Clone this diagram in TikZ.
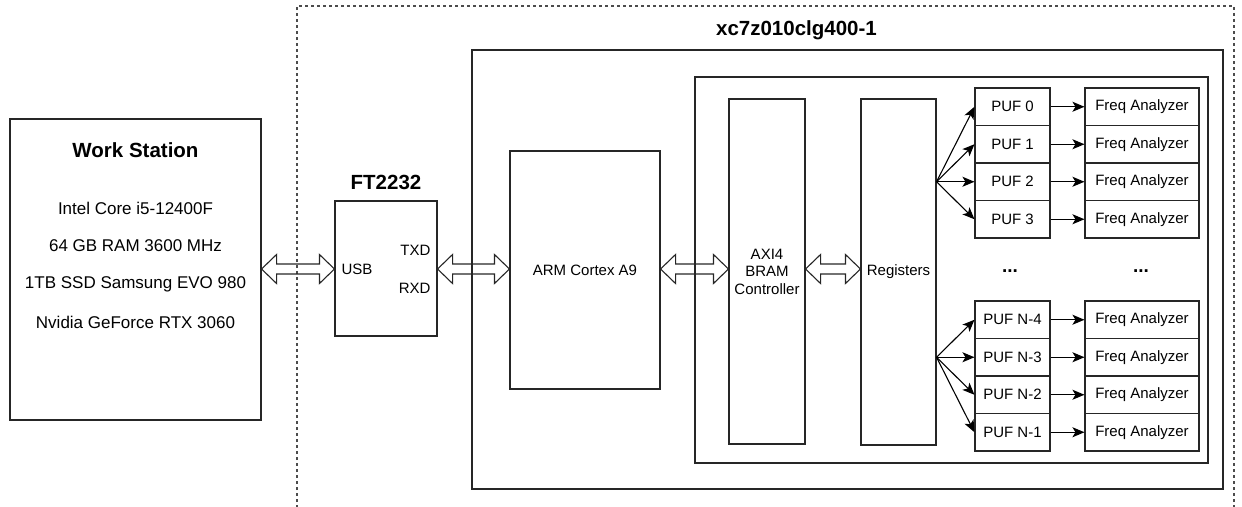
\documentclass[tikz,border=0pt]{standalone}
\usepackage{fontspec}
\setmainfont{Liberation Sans}
\usetikzlibrary{arrows.meta,calc}
\newcommand{\hollowarrow}[2]{%
  \draw[harrow] (#1) -- ($(#1)+(15,-14.5)$) -- ($(#1)+(15,-5)$) -- ($(#2)+(-15,-5)$) -- ($(#2)+(-15,-14.5)$) -- (#2)
    -- ($(#2)+(-15,14.5)$) -- ($(#2)+(-15,5)$) -- ($(#1)+(15,5)$) -- ($(#1)+(15,14.5)$) -- cycle;}
\begin{document}
\begin{tikzpicture}[x=1pt,y=-1pt,
  box/.style={draw=black!85, line width=1.1pt, rectangle, inner sep=0pt, font=\fontsize{15}{18}\selectfont},
  title/.style={font=\fontsize{20.5}{24}\selectfont\bfseries, inner sep=0pt},
  wstext/.style={font=\fontsize{17}{20}\selectfont, inner sep=0pt},
  harrow/.style={draw=black!85, line width=1.1pt, line join=miter},
  conn/.style={draw=black, line width=1.1pt, -{Stealth[length=12pt,width=10pt,inset=3pt]}},
  dots/.style={font=\fontsize{19}{20}\selectfont\bfseries, inner sep=0pt},
  dashbox/.style={draw=black!70, line width=1.1pt, dash pattern=on 3pt off 3pt}]
\useasboundingbox (0,0) rectangle (1242,506);
% dashed enclosure
\draw[dashbox] (297,520) -- (297,6) -- (1234,6) -- (1234,520);
% work station
\node[box, minimum width=251, minimum height=301] (ws) at (135.5,269.5) {};
\node[title] (wst) at (135.5,150) {Work Station};
\node[wstext] (w1) at (135.5,208) {Intel Core i5-12400F};
\node[wstext] (w2) at (135.5,246) {64 GB RAM 3600 MHz};
\node[wstext] (w3) at (135.5,284) {1TB SSD Samsung EVO 980};
\node[wstext] (w4) at (135.5,322) {Nvidia GeForce RTX 3060};
% FT2232
\node[box, minimum width=102, minimum height=135] (ft) at (386,268.5) {};
\node[title] (ftt) at (386,182) {FT2232};
\node[box, draw=none, anchor=west] (usb) at (341,269) {USB};
\node[box, draw=none, anchor=east] (txd) at (431,250) {TXD};
\node[box, draw=none, anchor=east] (rxd) at (431,288) {RXD};
% chip
\node[title] (xct) at (796.5,30) {xc7z010clg400-1};
\node[box, minimum width=751, minimum height=439] (xc) at (847.5,269.5) {};
\node[box, minimum width=513, minimum height=386] (pl) at (951.5,270) {};
\node[box, minimum width=150, minimum height=238] (arm) at (585,270) {ARM Cortex A9};
\node[box, minimum width=76, minimum height=345, align=center, font=\fontsize{15}{17.5}\selectfont] (axi) at (767,271.5) {AXI4\\BRAM\\Controller};
\node[box, minimum width=75, minimum height=346] (reg) at (898.5,272) {Registers};
% PUFs and analyzers
\foreach \i/\lab/\y in {0/PUF 0/106.75, 1/PUF 1/144.25, 2/PUF 2/181.75, 3/PUF 3/219.25,
                        4/PUF N-4/319.75, 5/PUF N-3/357.25, 6/PUF N-2/394.75, 7/PUF N-1/432.25} {
  \node[box, minimum width=75, minimum height=37.5] (puf\i) at (1012.5,\y) {\lab};
  \node[box, minimum width=114, minimum height=37.5] (fa\i) at (1142,\y) {Freq Analyzer};
  \draw[conn] (puf\i.east) -- (fa\i.west);
}
\node[dots] (d1) at (1010,271) {...};
\node[dots] (d2) at (1141,271) {...};
% fan-out
\coordinate (fanA) at (reg.east |- puf2.west);
\coordinate (fanB) at (reg.east |- puf5.west);
\foreach \i in {0,1,2,3} \draw[conn] (fanA) -- (puf\i.west);
\foreach \i in {4,5,6,7} \draw[conn] (fanB) -- (puf\i.west);
% hollow double arrows
\coordinate (row) at (0,269);
\coordinate (a1) at (ws.east |- row);
\coordinate (b1) at (ft.west |- row);
\coordinate (a2) at (ft.east |- row);
\coordinate (b2) at (arm.west |- row);
\coordinate (a3) at (arm.east |- row);
\coordinate (b3) at (axi.west |- row);
\coordinate (a4) at (axi.east |- row);
\coordinate (b4) at (reg.west |- row);
\hollowarrow{a1}{b1}
\hollowarrow{a2}{b2}
\hollowarrow{a3}{b3}
\hollowarrow{a4}{b4}
\end{tikzpicture}
\end{document}
